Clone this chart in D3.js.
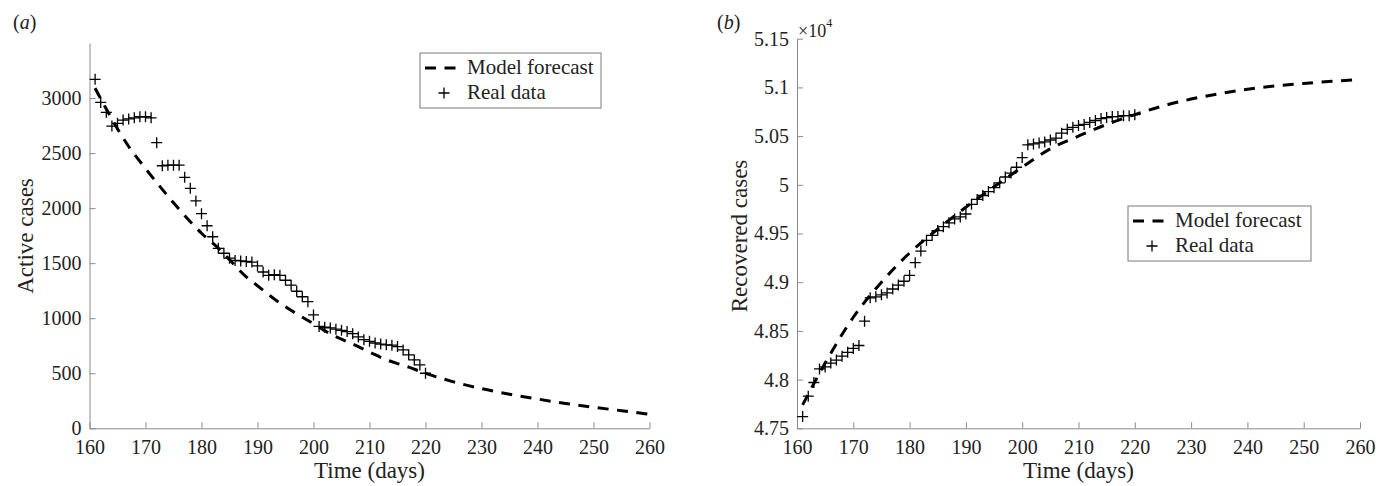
<!DOCTYPE html>
<html>
<head>
<meta charset="utf-8">
<script src="https://cdn.jsdelivr.net/npm/d3@7"></script>
<style>
body { margin: 0; background: #fff; }
svg { display: block; font-family: "Liberation Serif", "Times New Roman", Times, serif; }
</style>
</head>
<body>
<div class="wrapper"></div>
<script>
const WIDTH = 1378
const HEIGHT = 486
const AXISCOLOR = '#8a8a8a'
const TEXTCOLOR = '#222'
const SERIF = '"Liberation Serif", "Times New Roman", Times, serif'

// days with reported data (both panels)
var realDays = [161, 162, 163, 164, 165, 166, 167, 168, 169, 170,
                171, 172, 173, 174, 175, 176, 177, 178, 179, 180,
                181, 182, 183, 184, 185, 186, 187, 188, 189, 190,
                191, 192, 193, 194, 195, 196, 197, 198, 199, 200,
                201, 202, 203, 204, 205, 206, 207, 208, 209, 210,
                211, 212, 213, 214, 215, 216, 217, 218, 219, 220]

// (a) active cases
var activeReal = [3170, 2960, 2870, 2745, 2770, 2800, 2810, 2820, 2830, 2830,
                  2820, 2595, 2385, 2390, 2390, 2390, 2280, 2180, 2065, 1950,
                  1840, 1740, 1635, 1590, 1545, 1525, 1520, 1515, 1510, 1475,
                  1420, 1390, 1395, 1390, 1345, 1300, 1245, 1195, 1150, 1030,
                  925, 918, 912, 900, 890, 879, 860, 830, 805, 790,
                  775, 765, 758, 755, 742, 712, 667, 621, 576, 500]
var activeModelDays = [161, 163, 165, 167, 170, 173, 175, 178, 180, 183, 185, 188, 190, 193, 195, 197,
                       200, 203, 205, 207, 210, 213, 215, 217, 220, 225, 230, 235, 240, 245, 250, 255, 260]
var activeModel = [3090, 2900, 2720, 2560, 2360, 2170, 2048, 1877, 1772, 1636, 1532, 1375, 1295, 1175, 1104, 1040,
                   950, 857, 810, 765, 693, 623, 588, 555, 500, 422, 360, 310, 266, 226, 191, 160, 127]

// (b) recovered cases
var recoveredReal = [47620, 47830, 47970, 48110, 48130, 48170, 48200, 48240, 48280, 48320,
                     48350, 48600, 48840, 48850, 48870, 48890, 48930, 48970, 49010, 49070,
                     49200, 49320, 49430, 49480, 49530, 49570, 49610, 49650, 49670, 49700,
                     49800, 49850, 49890, 49930, 49970, 50020, 50080, 50120, 50180, 50280,
                     50410, 50420, 50430, 50440, 50460, 50480, 50530, 50570, 50590, 50610,
                     50620, 50640, 50660, 50680, 50690, 50700, 50700, 50710, 50710, 50720]
var recoveredModelDays = [161, 165, 170, 175, 180, 185, 190, 195, 200, 205, 210,
                          215, 220, 225, 230, 235, 240, 245, 250, 255, 260]
var recoveredModel = [47740, 48170, 48640, 49000, 49300, 49545, 49770, 49980, 50180, 50370, 50500,
                      50620, 50720, 50810, 50880, 50935, 50980, 51015, 51040, 51062, 51080]

var xTicks = [160, 170, 180, 190, 200, 210, 220, 230, 240, 250, 260]
var activeTicks = [0, 500, 1000, 1500, 2000, 2500, 3000]
var recoveredTicks = [47500, 48000, 48500, 49000, 49500, 50000, 50500, 51000, 51500]
var legendLabels = ['Model forecast', 'Real data']

var panels = [
  {tag: 'a', ylabel: 'Active cases', x0: 89.5, x1: 649.5, yDomain: [0, 3500], yTop: 43,
   yTicks: activeTicks, fmt: d => d, modelDays: activeModelDays, model: activeModel, real: activeReal,
   labelX: 13, ylabelX: 33, legend: {x: 420, y: 53, w: 181}},
  {tag: 'b', ylabel: 'Recovered cases', x0: 797, x1: 1360, yDomain: [47500, 51500], yTop: 38.7,
   yTicks: recoveredTicks, fmt: d => String(+(d / 1e4).toFixed(2)), modelDays: recoveredModelDays,
   model: recoveredModel, real: recoveredReal, labelX: 717, ylabelX: 747, legend: {x: 1128, y: 206, w: 183}}
]

var svg = d3.select(".wrapper")
    .append("svg")
    .attr("width", WIDTH)
    .attr("height", HEIGHT)

var BOTTOM = 428.3

function plusPath(s) {
  return `M${-s},0H${s}M0,${-s}V${s}`
}

panels.forEach(function(p) {
  var x = d3.scaleLinear([160, 260], [p.x0, p.x1])
  var y = d3.scaleLinear(p.yDomain, [BOTTOM, p.yTop])
  var g = svg.append("g")

  var xAxis = g.append("g")
      .attr("transform", `translate(0,${BOTTOM})`)
      .call(d3.axisBottom(x).tickValues(xTicks).tickSizeInner(-6).tickSizeOuter(0).tickPadding(12))
  var yAxis = g.append("g")
      .attr("transform", `translate(${p.x0},0)`)
      .call(d3.axisLeft(y).tickValues(p.yTicks).tickFormat(p.fmt).tickSizeInner(-6).tickSizeOuter(0).tickPadding(8))

  ;[xAxis, yAxis].forEach(function(a) {
    a.attr("font-family", SERIF).attr("font-size", 20)
    a.select(".domain").attr("stroke", AXISCOLOR)
    a.selectAll(".tick line").attr("stroke", AXISCOLOR)
    a.selectAll(".tick text").attr("fill", TEXTCOLOR)
  })

  // model forecast
  var line = d3.line()
      .x((d, i) => x(p.modelDays[i]))
      .y(d => y(d))
      .curve(d3.curveMonotoneX)
  g.append("path")
    .attr("d", line(p.model))
    .attr("fill", "none")
    .attr("stroke", "#000")
    .attr("stroke-width", 3)
    .attr("stroke-dasharray", "11,8.5")

  // real data
  g.append("g")
    .selectAll("path")
    .data(p.real)
    .join("path")
    .attr("transform", (d, i) => `translate(${x(realDays[i])},${y(d)})`)
    .attr("d", plusPath(5.5))
    .attr("stroke", "#000")
    .attr("stroke-width", 1.3)

  // panel tag
  var tag = g.append("text")
    .attr("x", p.labelX)
    .attr("y", 29)
    .attr("fill", TEXTCOLOR)
    .style("font-size", "20px")
  tag.append("tspan").text("(")
  tag.append("tspan").style("font-style", "italic").text(p.tag)
  tag.append("tspan").text(")")

  // axis titles
  g.append("text")
    .attr("transform", `translate(${p.ylabelX},236) rotate(-90)`)
    .attr("text-anchor", "middle")
    .attr("fill", TEXTCOLOR)
    .style("font-size", "23px")
    .text(p.ylabel)
  g.append("text")
    .attr("x", (p.x0 + p.x1) / 2)
    .attr("y", 478)
    .attr("text-anchor", "middle")
    .attr("fill", TEXTCOLOR)
    .style("font-size", "23px")
    .text("Time (days)")

  // legend
  var L = p.legend
  var lg = g.append("g").attr("transform", `translate(${L.x},${L.y})`)
  lg.append("rect")
    .attr("width", L.w)
    .attr("height", 55)
    .attr("fill", "#fff")
    .attr("stroke", "#7a7a7a")
    .attr("stroke-width", 1)
  lg.append("line")
    .attr("x1", 5).attr("x2", 36)
    .attr("y1", 15).attr("y2", 15)
    .attr("stroke", "#000")
    .attr("stroke-width", 3)
    .attr("stroke-dasharray", "11,8.5")
  lg.append("path")
    .attr("transform", "translate(24,40)")
    .attr("d", plusPath(5.5))
    .attr("stroke", "#000")
    .attr("stroke-width", 1.3)
  lg.selectAll("text.leg")
    .data(legendLabels)
    .join("text")
    .attr("class", "leg")
    .attr("x", 47)
    .attr("y", (d, i) => 21 + i * 25)
    .attr("fill", TEXTCOLOR)
    .style("font-size", "21px")
    .text(d => d)
})

// exponent marker on panel b
var expo = svg.append("text")
    .attr("x", 798)
    .attr("y", 36.5)
    .attr("fill", TEXTCOLOR)
    .style("font-size", "18px")
expo.append("tspan").text("\u00d710")
expo.append("tspan").attr("dy", -10).style("font-size", "12px").text("4")
</script>
</body>
</html>
